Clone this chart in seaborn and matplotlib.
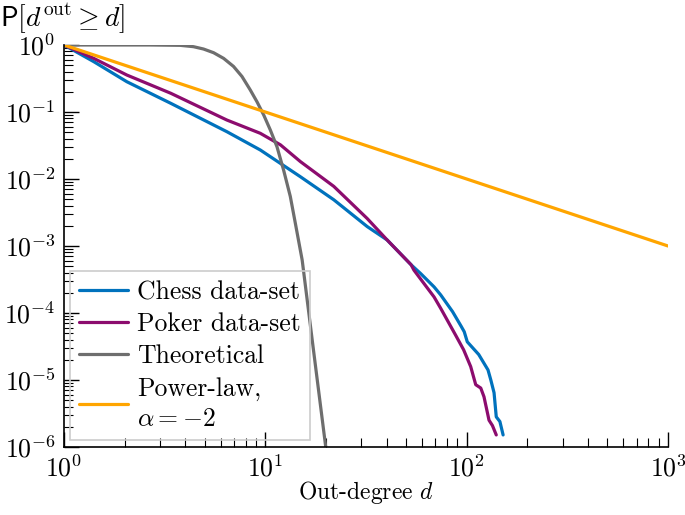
import numpy as np
import pandas as pd
import matplotlib
matplotlib.use("Agg")
import matplotlib.pyplot as plt
import seaborn as sns
from matplotlib.ticker import LogLocator, NullFormatter

# ---- data (log10 values) ----
chess_logd = [0.0, 0.148, 0.312, 0.53, 0.809, 0.975, 1.174, 1.34, 1.506, 1.605, 1.724, 1.771,
              1.838, 1.871, 1.930, 1.973, 1.988, 2.003, 2.06, 2.106, 2.120, 2.136,
              2.147, 2.165, 2.181]
chess_logp = [0.0, -0.249, -0.548, -0.87, -1.294, -1.567, -1.966, -2.31, -2.71, -2.91, -3.28, -3.41,
              -3.61, -3.73, -3.98, -4.20, -4.28, -4.43, -4.62, -4.85, -5.00, -5.19,
              -5.55, -5.62, -5.82]
poker_logd = [0.0, 0.148, 0.312, 0.53, 0.809, 0.975, 1.075, 1.174, 1.34, 1.506, 1.605, 1.724,
              1.738, 1.838, 1.871, 1.945, 1.985, 2.02, 2.045, 2.070, 2.086, 2.111,
              2.128, 2.147]
poker_logp = [0.0, -0.20, -0.448, -0.72, -1.12, -1.318, -1.49, -1.74, -2.11, -2.59, -2.91, -3.28,
              -3.36, -3.76, -3.93, -4.33, -4.55, -4.80, -5.07, -5.12, -5.25, -5.60,
              -5.68, -5.82]
theo_logd = [0.0, 0.428, 0.577, 0.643, 0.693, 0.743, 0.793, 0.842, 0.884, 0.925,
             0.959, 0.992, 1.025, 1.058, 1.091, 1.124, 1.149, 1.183, 1.239, 1.30]
theo_logp = [0.0, 0.0, -0.005, -0.025, -0.06, -0.115, -0.20, -0.32, -0.47, -0.67,
             -0.85, -1.045, -1.27, -1.52, -1.87, -2.26, -2.66, -3.21, -4.55, -6.0]
power_d = [1.0, 1000.0]
power_p = [1.0, 1e-3]

labels = ["Chess data-set", "Poker data-set", "Theoretical", "Power-law,\n$\\alpha = -2$"]
colors = ["#0072BD", "#8C0C6E", "#6E6E6E", "#FFA500"]

frames = [
    pd.DataFrame({"d": 10 ** np.array(chess_logd), "p": 10 ** np.array(chess_logp)}),
    pd.DataFrame({"d": 10 ** np.array(poker_logd), "p": 10 ** np.array(poker_logp)}),
    pd.DataFrame({"d": 10 ** np.array(theo_logd), "p": 10 ** np.array(theo_logp)}),
    pd.DataFrame({"d": power_d, "p": power_p}),
]

sns.set_theme(style="ticks")
plt.rcParams["font.family"] = ["cmr10", "DejaVu Serif"]
plt.rcParams["mathtext.fontset"] = "cm"
plt.rcParams["axes.formatter.use_mathtext"] = True
plt.rcParams["axes.unicode_minus"] = True

fig = plt.figure(figsize=(6.85, 5.15), dpi=100)
ax = fig.add_axes([64 / 685, 1 - 447 / 515, (668 - 64) / 685, (447 - 45) / 515])

for df, lab, col in zip(frames, labels, colors):
    sns.lineplot(data=df, x="d", y="p", ax=ax, color=col, lw=2.3, label=lab,
                 sort=False, estimator=None, clip_on=True)

ax.set_xscale("log")
ax.set_yscale("log")
ax.set_xlim(1, 1000)
ax.set_ylim(1e-6, 1)

for s in ["top", "right"]:
    ax.spines[s].set_visible(False)
for s in ["left", "bottom"]:
    ax.spines[s].set_color("black")
    ax.spines[s].set_linewidth(1.2)

ax.xaxis.set_major_locator(LogLocator(base=10, numticks=10))
ax.xaxis.set_minor_locator(LogLocator(base=10, subs=np.arange(2, 10), numticks=20))
ax.yaxis.set_major_locator(LogLocator(base=10, numticks=10))
ax.yaxis.set_minor_locator(LogLocator(base=10, subs=np.arange(2, 10), numticks=20))
ax.xaxis.set_minor_formatter(NullFormatter())
ax.yaxis.set_minor_formatter(NullFormatter())
ax.tick_params(which="major", direction="in", length=11, width=1.0, color="black",
               labelsize=18.5, labelcolor="black", pad=6)
ax.tick_params(which="minor", direction="in", length=6.5, width=0.8, color="black")
ax.tick_params(axis="y", which="major", pad=6)

ax.set_xlabel("Out-degree $d$", fontsize=17, color="black")
ax.xaxis.set_label_coords(0.5, -0.08)
ax.set_ylabel("")
fig.text(0.0, 1 - 2 / 515, r"$\mathsf{P}[d^{\mathrm{out}} \geq d]$", fontsize=20,
         ha="left", va="top", color="black")

leg = ax.legend(loc="lower left", bbox_to_anchor=(0.01, 0.017), borderaxespad=0,
                fontsize=18.5, frameon=True, fancybox=False, framealpha=1,
                edgecolor="#CCCCCC", handlelength=1.9, handletextpad=0.35,
                borderpad=0.35, labelspacing=0.33)
leg.get_frame().set_facecolor("none")
leg.get_frame().set_linewidth(1.2)
for t in leg.get_texts():
    t.set_color("black")
    t.set_linespacing(1.35)

fig.savefig("out.png", dpi=100)
